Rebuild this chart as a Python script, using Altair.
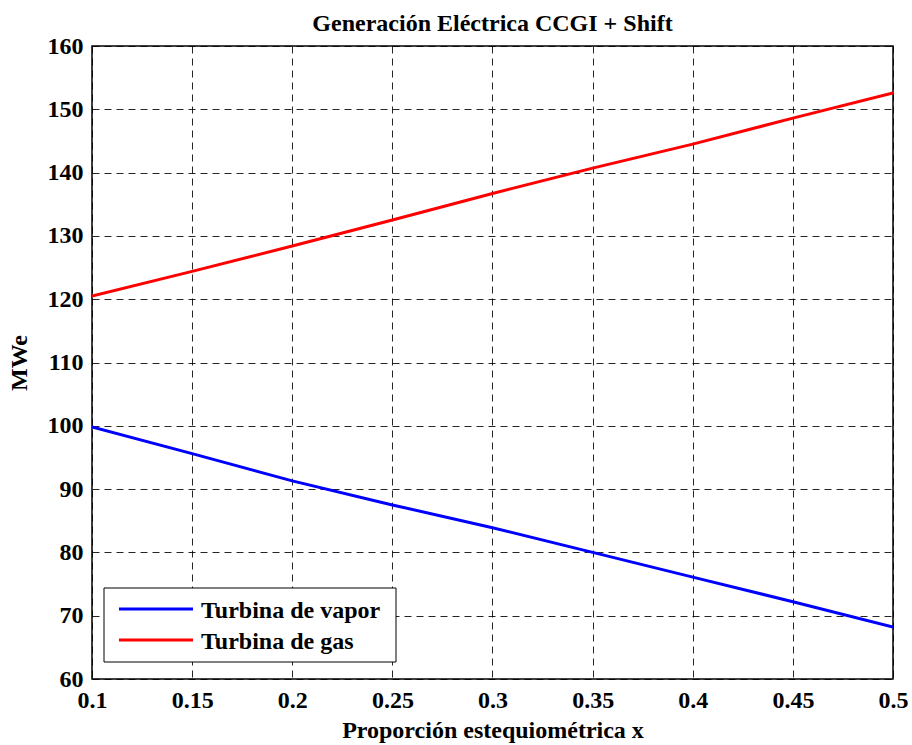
import altair as alt
import pandas as pd

# Stoichiometric proportion x (horizontal axis)
proporcion = [0.10, 0.15, 0.20, 0.25, 0.30, 0.35, 0.40, 0.45, 0.50]

# Electrical output per turbine, MWe
turbina_vapor = [99.8, 95.6, 91.3, 87.5, 83.9, 80.0, 76.1, 72.2, 68.2]
turbina_gas = [120.5, 124.4, 128.4, 132.5, 136.7, 140.7, 144.5, 148.6, 152.6]

series_names = ["Turbina de vapor", "Turbina de gas"]
series_colors = ["#0000FF", "#FF0000"]

x_ticks = [0.1, 0.15, 0.2, 0.25, 0.3, 0.35, 0.4, 0.45, 0.5]
y_ticks = [60, 70, 80, 90, 100, 110, 120, 130, 140, 150, 160]

rows = []
for name, values in zip(series_names, [turbina_vapor, turbina_gas]):
    for xv, yv in zip(proporcion, values):
        rows.append({"x": xv, "MWe": yv, "serie": name})
df = pd.DataFrame(rows)

FONT = "Liberation Serif"

lines = (
    alt.Chart(df)
    .mark_line(strokeWidth=3, clip=True)
    .encode(
        x=alt.X(
            "x:Q",
            scale=alt.Scale(domain=[0.1, 0.5], nice=False, zero=False),
            axis=alt.Axis(
                title="Proporción estequiométrica x",
                values=x_ticks,
                labelExpr="format(datum.value, '~g')",
                labelFlush=False,
                labelOverlap=False,
                grid=True,
                tickSize=0,
                labelPadding=9,
                titlePadding=6,
            ),
        ),
        y=alt.Y(
            "MWe:Q",
            scale=alt.Scale(domain=[60, 160], nice=False, zero=False),
            axis=alt.Axis(
                title="MWe",
                values=y_ticks,
                labelFlush=False,
                grid=True,
                tickSize=0,
                labelPadding=9,
                titlePadding=16,
            ),
        ),
        color=alt.Color(
            "serie:N",
            scale=alt.Scale(domain=series_names, range=series_colors),
            legend=None,
        ),
    )
)

# Boxed legend in the lower-left corner of the plot area
legend_box = (
    alt.Chart(pd.DataFrame({"k": [0]}))
    .mark_rect(fill="white", stroke="black", strokeWidth=1)
    .encode(
        x=alt.value(12), x2=alt.value(304),
        y=alt.value(542), y2=alt.value(616),
    )
)

legend_layers = [legend_box]
row_centers = [563, 594]
for name, color, yc in zip(series_names, series_colors, row_centers):
    entry = pd.DataFrame({"serie": [name]})
    legend_layers.append(
        alt.Chart(entry)
        .mark_rule(color=color, strokeWidth=3)
        .encode(x=alt.value(27), x2=alt.value(101), y=alt.value(yc))
    )
    legend_layers.append(
        alt.Chart(entry)
        .mark_text(
            font=FONT, fontSize=24, fontWeight="bold", color="black",
            align="left", baseline="middle",
        )
        .encode(text="serie:N", x=alt.value(109), y=alt.value(yc + 2))
    )

chart = (
    alt.layer(lines, *legend_layers)
    .properties(
        width=801,
        height=633,
        autosize=alt.AutoSizeParams(type="none"),
        padding={"left": 92, "top": 46, "right": 19, "bottom": 66},
        background="white",
        title=alt.TitleParams(
            "Generación Eléctrica CCGI + Shift",
            font=FONT,
            fontSize=24,
            fontWeight="bold",
            color="black",
            anchor="middle",
            offset=-2,
        ),
    )
    .configure_view(stroke="black", strokeWidth=1.5)
    .configure_axis(
        labelFont=FONT,
        labelFontSize=24,
        labelFontWeight="bold",
        labelColor="black",
        titleFont=FONT,
        titleFontSize=24,
        titleFontWeight="bold",
        titleColor="black",
        domain=False,
        gridColor="black",
        gridDash=[7, 5],
        gridWidth=1,
        gridOpacity=0.85,
    )
)

chart.save("out.html", embed_options={"renderer": "svg", "actions": False})
